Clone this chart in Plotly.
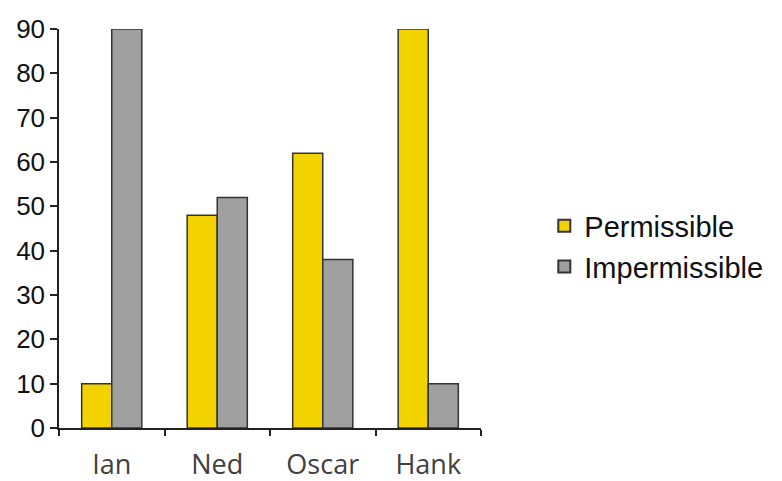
import plotly.graph_objects as go

categories = ["Ian", "Ned", "Oscar", "Hank"]
permissible = [10, 48, 62, 90]
impermissible = [90, 52, 38, 10]
y_ticks = [0, 10, 20, 30, 40, 50, 60, 70, 80, 90]

fig = go.Figure()
fig.add_trace(go.Bar(x=categories, y=permissible, name="Permissible",
                     marker=dict(color="#F2D300", line=dict(color="#333333", width=1.5))))
fig.add_trace(go.Bar(x=categories, y=impermissible, name="Impermissible",
                     marker=dict(color="#A0A0A0", line=dict(color="#333333", width=1.5))))

fig.update_layout(
    width=782, height=481,
    margin=dict(l=59, r=301, t=29, b=53, autoexpand=False),
    paper_bgcolor="white", plot_bgcolor="white",
    barmode="group", bargap=0.43, bargroupgap=0,
    showlegend=True,
    legend=dict(x=1.15, y=0.455, xanchor="left", yanchor="middle",
                font=dict(family="Liberation Sans, Arial", size=29, color="#111111"),
                itemsizing="constant", tracegroupgap=0),
    xaxis=dict(
        range=[-0.5, 3.5], automargin=False,
        showline=True, linecolor="#222222", linewidth=1.5,
        ticks="outside", tickson="boundaries", ticklen=6, tickcolor="#222222", tickwidth=1.5,
        tickfont=dict(family="Open Sans, Noto Sans", size=27, color="#404040"),
        ticklabelstandoff=12,
        showgrid=False, zeroline=False,
    ),
    yaxis=dict(
        range=[0, 90], automargin=False,
        tickvals=y_ticks,
        showline=True, linecolor="#222222", linewidth=1.5,
        ticks="outside", ticklen=7, tickcolor="#222222", tickwidth=1.5,
        tickfont=dict(family="Liberation Sans, Arial", size=26, color="#111111"),
        showgrid=False, zeroline=False,
    ),
)

fig.write_html("out.html")
